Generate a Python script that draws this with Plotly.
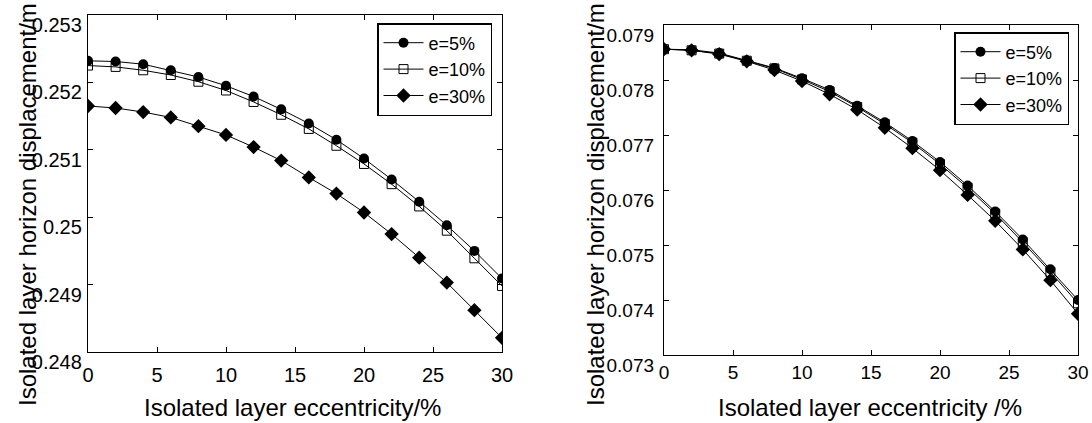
import plotly.graph_objects as go

# ---------------- data ----------------
ecc = [0, 2, 4, 6, 8, 10, 12, 14, 16, 18, 20, 22, 24, 26, 28, 30]
series_names = ["e=5%", "e=10%", "e=30%"]

left_e5 = [0.25232, 0.25231, 0.25227, 0.25218, 0.25208, 0.25195, 0.25179, 0.25160,
           0.25139, 0.25115, 0.25087, 0.25056, 0.25023, 0.24988, 0.24950, 0.24909]
left_e10 = [0.25225, 0.25223, 0.25218, 0.25211, 0.25201, 0.25188, 0.25171, 0.25152,
            0.25131, 0.25106, 0.25079, 0.25049, 0.25016, 0.24980, 0.24939, 0.24898]
left_e30 = [0.25165, 0.25162, 0.25156, 0.25148, 0.25135, 0.25122, 0.25104, 0.25084,
            0.25059, 0.25035, 0.25007, 0.24975, 0.24940, 0.24903, 0.24862, 0.24821]

right_e5 = [0.07856, 0.07855, 0.07849, 0.07836, 0.07822, 0.07803, 0.07782, 0.07753,
            0.07723, 0.07689, 0.07651, 0.07608, 0.07561, 0.07510, 0.07456, 0.07400]
right_e10 = [0.07856, 0.07854, 0.07848, 0.07835, 0.07821, 0.07801, 0.07779, 0.07751,
             0.07720, 0.07686, 0.07647, 0.07604, 0.07557, 0.07505, 0.07451, 0.07394]
right_e30 = [0.07856, 0.07854, 0.07847, 0.07834, 0.07818, 0.07798, 0.07774, 0.07746,
             0.07713, 0.07676, 0.07636, 0.07591, 0.07544, 0.07492, 0.07436, 0.07375]

x_ticks = [0, 5, 10, 15, 20, 25, 30]
left_y_ticks = [0.248, 0.249, 0.250, 0.251, 0.252, 0.253]
left_y_labels = ["0.248", "0.249", "0.25", "0.251", "0.252", "0.253"]
right_y_ticks = [0.073, 0.074, 0.075, 0.076, 0.077, 0.078, 0.079]
right_y_labels = ["0.073", "0.074", "0.075", "0.076", "0.077", "0.078", "0.079"]

left_xtitle = "Isolated layer eccentricity/%"
right_xtitle = "Isolated layer eccentricity /%"
ytitle = "Isolated layer horizon displacement/m"

# ---------------- figure ----------------
W, H = 1092, 423
FONT = "Liberation Sans, Arial, sans-serif"

markers = [
    dict(symbol="circle", size=10, color="black"),
    dict(symbol="square-open", size=9, color="black", line=dict(width=1, color="black")),
    dict(symbol="diamond", size=11, color="black"),
]

fig = go.Figure()
for name, ys, mk in zip(series_names, [left_e5, left_e10, left_e30], markers):
    fig.add_trace(go.Scatter(x=ecc, y=ys, name=name, mode="lines+markers",
                             line=dict(color="black", width=1), marker=mk,
                             xaxis="x", yaxis="y", legend="legend"))
for name, ys, mk in zip(series_names, [right_e5, right_e10, right_e30], markers):
    fig.add_trace(go.Scatter(x=ecc, y=ys, name=name, mode="lines+markers",
                             line=dict(color="black", width=1), marker=mk,
                             xaxis="x2", yaxis="y2", legend="legend2"))

def px_x(p):
    return p / W

def px_y(p):
    return 1 - p / H

def axis_style(size):
    return dict(showline=True, linecolor="black", linewidth=1.3, mirror="allticks",
                ticks="inside", ticklen=5, tickcolor="black", tickwidth=1,
                showgrid=False, zeroline=False, automargin=False,
                tickfont=dict(family=FONT, size=size, color="black"))

legend_style = dict(bgcolor="white", bordercolor="black", borderwidth=1.5,
                    font=dict(family=FONT, size=18, color="black"),
                    tracegroupgap=0, itemwidth=40)

fig.update_layout(
    template="none",
    width=W, height=H, autosize=False,
    margin=dict(l=0, r=0, t=0, b=0, pad=0, autoexpand=False),
    paper_bgcolor="white", plot_bgcolor="white",
    font=dict(family=FONT, color="black"),
    xaxis=dict(domain=[px_x(88), px_x(502)], range=[0, 30], tickvals=x_ticks,
               anchor="y", ticklabelstandoff=5, **axis_style(20)),
    yaxis=dict(domain=[px_y(352), px_y(15)], range=[0.248, 0.253],
               tickvals=left_y_ticks, ticktext=left_y_labels, anchor="x",
               ticklabelstandoff=1, ticklabelshift=10, **axis_style(20)),
    xaxis2=dict(domain=[px_x(664), px_x(1078)], range=[0, 30], tickvals=x_ticks,
                anchor="y2", ticklabelstandoff=0, **axis_style(19)),
    yaxis2=dict(domain=[px_y(355), px_y(25)], range=[0.073, 0.079],
                tickvals=right_y_ticks, ticktext=right_y_labels, anchor="x2",
                ticklabelstandoff=5, ticklabelshift=10, **axis_style(19)),
    legend=dict(x=px_x(492), xanchor="right", y=px_y(23), yanchor="top", **legend_style),
    legend2=dict(x=px_x(1069), xanchor="right", y=px_y(32), yanchor="top", **legend_style),
    showlegend=True,
)

title_font = dict(family=FONT, size=24, color="black")
fig.add_annotation(text=left_xtitle, xref="paper", yref="paper", x=px_x(292), y=px_y(407),
                   xanchor="center", yanchor="middle", showarrow=False, font=title_font)
fig.add_annotation(text=right_xtitle, xref="paper", yref="paper", x=px_x(870), y=px_y(407),
                   xanchor="center", yanchor="middle", showarrow=False, font=title_font)
fig.add_annotation(text=ytitle, xref="paper", yref="paper", x=px_x(28), y=px_y(205),
                   xanchor="center", yanchor="middle", showarrow=False, textangle=-90,
                   font=title_font)
fig.add_annotation(text=ytitle, xref="paper", yref="paper", x=px_x(596), y=px_y(205),
                   xanchor="center", yanchor="middle", showarrow=False, textangle=-90,
                   font=title_font)

fig.write_html("out.html", config={"displayModeBar": False},
               post_script="document.body.style.margin='0';document.body.style.overflow='hidden';")
